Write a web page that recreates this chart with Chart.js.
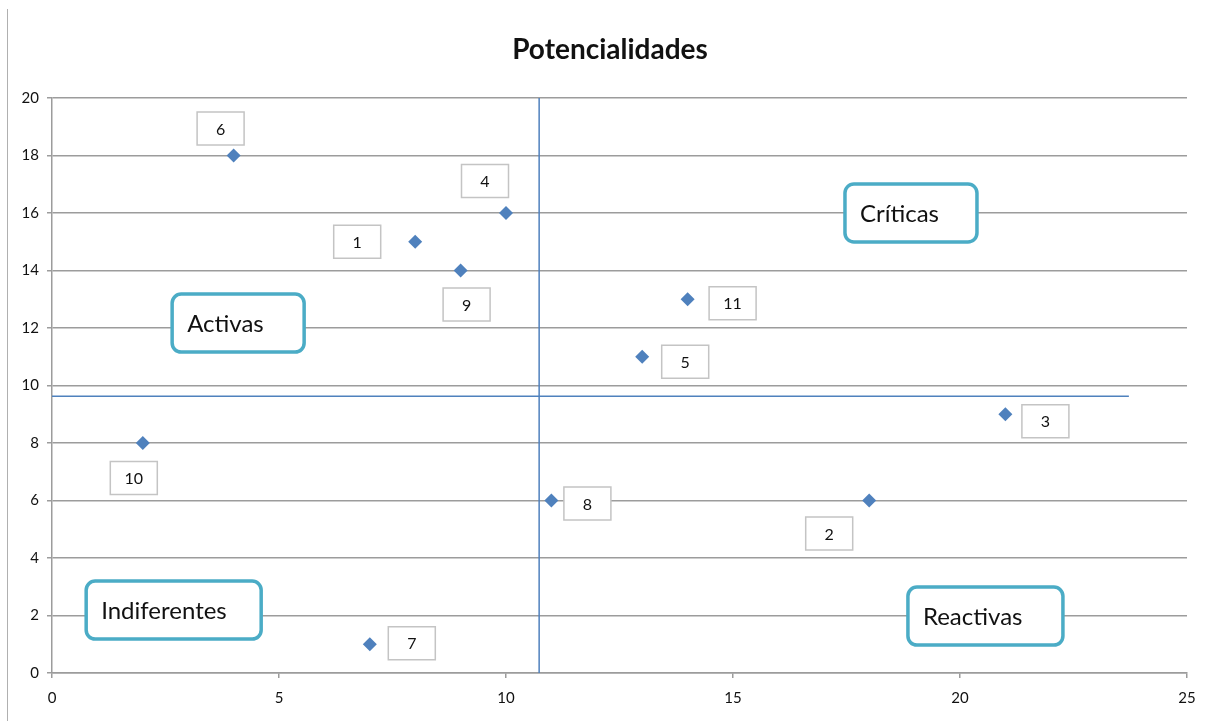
<!DOCTYPE html>
<html lang="es">
<head>
  <meta charset="UTF-8">
  <title>Potencialidades</title>
  <script src="https://cdn.jsdelivr.net/npm/chart.js"></script>
  <style>
    body { margin: 0; background: #fff; }
    #wrap { position: relative; width: 1215px; height: 721px; }
    #edge { position: absolute; left: 7px; top: 9px; width: 1px; height: 712px; background: #b0b0b0; }
  </style>
</head>
<body>
  <div id="wrap">
    <div id="edge"></div>
    <canvas id="pot-chart"></canvas>
  </div>

  <script>
    // data
    const chartTitle = 'Potencialidades';
    const pointIds = ['1', '2', '3', '4', '5', '6', '7', '8', '9', '10', '11'];
    const xValues = [8, 18, 21, 10, 13, 4, 7, 11, 9, 2, 14];
    const yValues = [15, 6, 9, 16, 11, 18, 1, 6, 14, 8, 13];
    const xTicks = [0, 5, 10, 15, 20, 25];
    const yTicks = [0, 2, 4, 6, 8, 10, 12, 14, 16, 18, 20];

    // quadrant dividers
    const dividerX = 10.73;
    const dividerY = 9.63;
    const dividerYEnd = 23.72;

    // quadrant names and where they sit (data coords)
    const quadrantNames = ['Críticas', 'Activas', 'Indiferentes', 'Reactivas'];
    const quadrantX = [18.92, 4.1, 2.68, 20.56];
    const quadrantY = [16.0, 12.17, 2.19, 1.98];

    // layout only: label box offsets in px from each point
    const labelOffsets = [[-58, 0], [-40, 33], [40, 7], [-21, -32], [43, 5], [-13, -27], [42, -1], [36, 3], [6, 34], [-9, 35], [45, 4]];
    const quadrantWidths = [132, 132, 175, 155];

    const FONT = 'Lato, "Open Sans", sans-serif';
    const GRID = '#9c9c9c';
    const BLUE = '#4f81bd';

    const labelBoxes = {
      id: 'labelBoxes',
      afterDatasetsDraw(chart) {
        const ctx = chart.ctx;
        const meta = chart.getDatasetMeta(0);
        ctx.save();

        // title, centred a little right of the canvas like the original
        ctx.fillStyle = '#111';
        ctx.font = 'bold 28px ' + FONT;
        ctx.textAlign = 'center';
        ctx.textBaseline = 'middle';
        ctx.fillText(chartTitle, 610, 50);

        meta.data.forEach((el, i) => {
          const cx = el.x + labelOffsets[i][0];
          const cy = el.y + labelOffsets[i][1];
          ctx.fillStyle = '#fff';
          ctx.fillRect(cx - 23.5, cy - 16.5, 47, 33);
          ctx.strokeStyle = '#c4c4c4';
          ctx.lineWidth = 1.5;
          ctx.strokeRect(cx - 23.5, cy - 16.5, 47, 33);
          ctx.fillStyle = '#111';
          ctx.font = '16px ' + FONT;
          ctx.textAlign = 'center';
          ctx.textBaseline = 'middle';
          ctx.fillText(pointIds[i], cx, cy + 1);
        });

        // quadrant boxes
        const xs = chart.scales.x, ys = chart.scales.y;
        quadrantNames.forEach((name, i) => {
          const cx = xs.getPixelForValue(quadrantX[i]);
          const cy = ys.getPixelForValue(quadrantY[i]);
          const w = quadrantWidths[i], h = 58;
          ctx.beginPath();
          ctx.roundRect(cx - w / 2, cy - h / 2, w, h, 9);
          ctx.fillStyle = '#fff';
          ctx.fill();
          ctx.strokeStyle = '#4bacc6';
          ctx.lineWidth = 3.5;
          ctx.stroke();
          ctx.fillStyle = '#111';
          ctx.font = '24px ' + FONT;
          ctx.textAlign = 'left';
          ctx.textBaseline = 'middle';
          ctx.fillText(name, cx - w / 2 + 15, cy + 1);
        });
        ctx.restore();
      }
    };

    const ctx = document.getElementById('pot-chart').getContext('2d');
    new Chart(ctx, {
      type: 'scatter',
      data: {
        datasets: [
          {
            label: 'Potencialidades',
            data: xValues.map((x, i) => ({ x: x, y: yValues[i] })),
            pointStyle: 'rectRot',
            pointRadius: 7,
            pointBackgroundColor: BLUE,
            pointBorderColor: BLUE,
            pointBorderWidth: 0
          },
          {
            label: 'vertical',
            data: [{ x: dividerX, y: 0 }, { x: dividerX, y: 20 }],
            showLine: true,
            borderColor: BLUE,
            borderWidth: 1.5,
            pointRadius: 0
          },
          {
            label: 'horizontal',
            data: [{ x: 0, y: dividerY }, { x: dividerYEnd, y: dividerY }],
            showLine: true,
            borderColor: BLUE,
            borderWidth: 1.5,
            pointRadius: 0
          }
        ]
      },
      options: {
        responsive: true,
        maintainAspectRatio: false,
        animation: false,
        layout: { padding: { left: 0, right: 28, top: 98, bottom: 0 } },
        plugins: {
          legend: { display: false },
          tooltip: { enabled: false },
          title: { display: false }
        },
        scales: {
          x: {
            min: 0,
            max: 25,
            afterFit(scale) { scale.height = 48; },
            afterBuildTicks(scale) { scale.ticks = xTicks.map(v => ({ value: v })); },
            grid: { drawOnChartArea: false, drawTicks: true, tickLength: 5, color: GRID, lineWidth: 1.5 },
            border: { display: true, color: GRID, width: 1.5 },
            ticks: { color: '#111', font: { family: FONT, size: 15 }, padding: 11 }
          },
          y: {
            min: 0,
            max: 20,
            afterFit(scale) { scale.width = 52; },
            afterBuildTicks(scale) { scale.ticks = yTicks.map(v => ({ value: v })); },
            grid: { drawTicks: true, tickLength: 5, color: GRID, lineWidth: 1.5 },
            border: { display: true, color: GRID, width: 1.5 },
            ticks: { color: '#111', font: { family: FONT, size: 15 }, padding: 8 }
          }
        }
      },
      plugins: [labelBoxes]
    });
  </script>
</body>
</html>
